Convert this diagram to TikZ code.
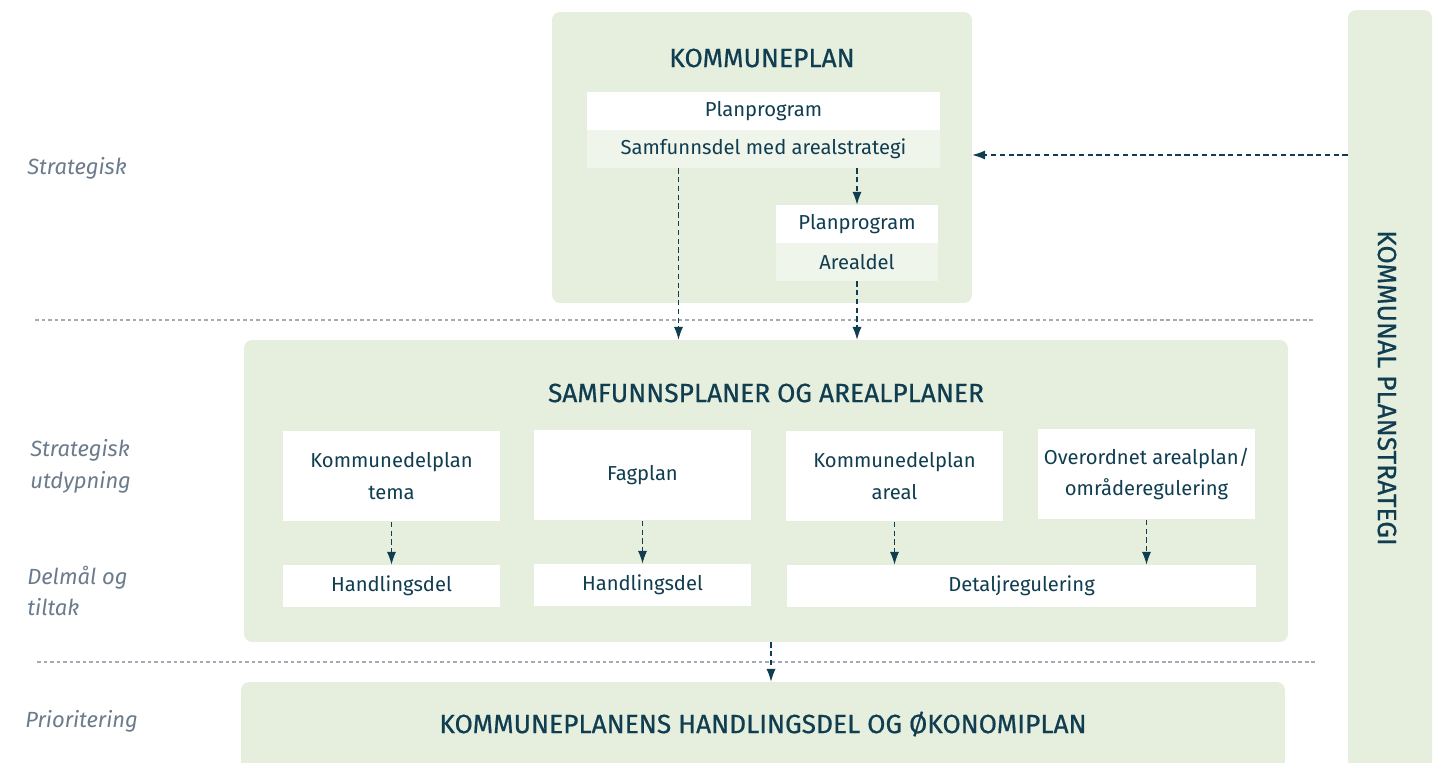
\documentclass[tikz,border=0pt]{standalone}
\usepackage{fontspec}
\setmainfont{Fira Sans}
\newfontfamily\titlefont[FakeBold=0.6]{Fira Sans}
\usepackage{tikz}
\usetikzlibrary{calc,arrows.meta}

\definecolor{planteal}{HTML}{103D50}
\definecolor{plangreen}{HTML}{E6EFDE}
\definecolor{planrow}{HTML}{F0F5EB}
\definecolor{levelgray}{HTML}{6B7B8C}
\definecolor{sepgray}{HTML}{A3ABB4}

\begin{document}
\begin{tikzpicture}[x=0.02cm, y=-0.02cm, text=planteal,
    font=\fontsize{11.5}{18}\selectfont,
    greenbox/.style={fill=plangreen, rounded corners=4.5pt, inner sep=0pt},
    whitebox/.style={fill=white, inner sep=0pt, align=center},
    rowbox/.style={fill=planrow, inner sep=0pt, align=center},
    title/.style={font=\titlefont\fontsize{15}{18}\selectfont},
    level/.style={anchor=west, align=left, inner sep=0pt, text=levelgray, font=\itshape\fontsize{12.5}{18}\selectfont},
    flow/.style={densely dashed, planteal, line width=0.6pt, -{Latex[length=7.3pt,width=5.2pt]}},
    sep/.style={sepgray, line width=0.6pt, dash pattern=on 2.2pt off 1.5pt}]

    \useasboundingbox (0,0) rectangle (1433,763);
    \clip (0,0) rectangle (1433,763);

    %levels
    \node[level] (lvl1) at (27,168) {Strategisk};
    \node[level] (lvl2) at (30,466) {Strategisk\\utdypning};
    \node[level] (lvl3) at (27,591) {Delmål og\\tiltak};
    \node[level] (lvl4) at (25,721) {Prioritering};

    %separators
    \draw[sep] (35,320) -- (1313,320);
    \draw[sep] (37,662) -- (1316,662);

    %kommunal planstrategi
    \node[greenbox, minimum width=1.68cm, minimum height=15.6cm] (kps) at (1390,400) {};
    \node[title, rotate=-90] (kpstext) at (1387,388) {KOMMUNAL PLANSTRATEGI};

    %kommuneplan
    \node[greenbox, minimum width=8.4cm, minimum height=5.82cm] (kp) at (762,157.5) {};
    \node[title] (kptext) at (762,58) {KOMMUNEPLAN};
    \node[whitebox, minimum width=7.06cm, minimum height=0.76cm] (pp1) at (763.5,111) {Planprogram};
    \node[rowbox, minimum width=7.06cm, minimum height=0.76cm] (samf) at (763.5,149) {Samfunnsdel med arealstrategi};
    \node[whitebox, minimum width=3.24cm, minimum height=0.76cm] (pp2) at (857,224) {Planprogram};
    \node[rowbox, minimum width=3.24cm, minimum height=0.76cm] (areal) at (857,262) {Arealdel};

    %samfunnsplaner og arealplaner
    \node[greenbox, minimum width=20.88cm, minimum height=6.04cm] (sap) at (766,491) {};
    \node[title] (saptext) at (766,393) {SAMFUNNSPLANER OG AREALPLANER};
    \node[whitebox, minimum width=4.34cm, minimum height=1.82cm] (kdtema) at (391.5,476) {Kommunedelplan\\tema};
    \node[whitebox, minimum width=4.34cm, minimum height=1.82cm] (fag) at (642.5,475) {Fagplan};
    \node[whitebox, minimum width=4.34cm, minimum height=1.82cm] (kdareal) at (894.5,476) {Kommunedelplan\\areal};
    \node[whitebox, minimum width=4.34cm, minimum height=1.82cm] (oap) at (1146.5,474) {Overordnet arealplan/\\områderegulering};
    \node[whitebox, minimum width=4.34cm, minimum height=0.84cm] (hd1) at (391.5,586) {Handlingsdel};
    \node[whitebox, minimum width=4.34cm, minimum height=0.84cm] (hd2) at (642.5,585) {Handlingsdel};
    \node[whitebox, minimum width=9.38cm, minimum height=0.84cm] (detalj) at (1021.5,586) {Detaljregulering};

    %handlingsdel og økonomiplan
    \node[greenbox, minimum width=20.88cm, minimum height=2.16cm] (hok) at (763,736) {};
    \node[title] (hoktext) at (763,724) {KOMMUNEPLANENS HANDLINGSDEL OG ØKONOMIPLAN};

    %arrow ends
    \coordinate (samfout) at ($(samf.south)+(-85,0)$);
    \coordinate (sapout) at ($(sap.south)+(5,0)$);
    \coordinate (kpsout) at ($(kps.west |- samf)+(0,6)$);

    %arrows
    \draw[flow] (kpsout) -- (kpsout -| kp.east);
    \draw[flow] (samf.south -| pp2.north) -- (pp2.north);
    \draw[flow] (samfout) -- (samfout |- sap.north);
    \draw[flow] (areal.south) -- (areal.south |- sap.north);
    \foreach \a/\b in {kdtema/hd1, fag/hd2}
        \draw[flow] (\a.south) -- (\b.north);
    \foreach \a in {kdareal, oap}
        \draw[flow] (\a.south) -- (\a.south |- detalj.north);
    \draw[flow] (sapout) -- (sapout |- hok.north);

\end{tikzpicture}
\end{document}
